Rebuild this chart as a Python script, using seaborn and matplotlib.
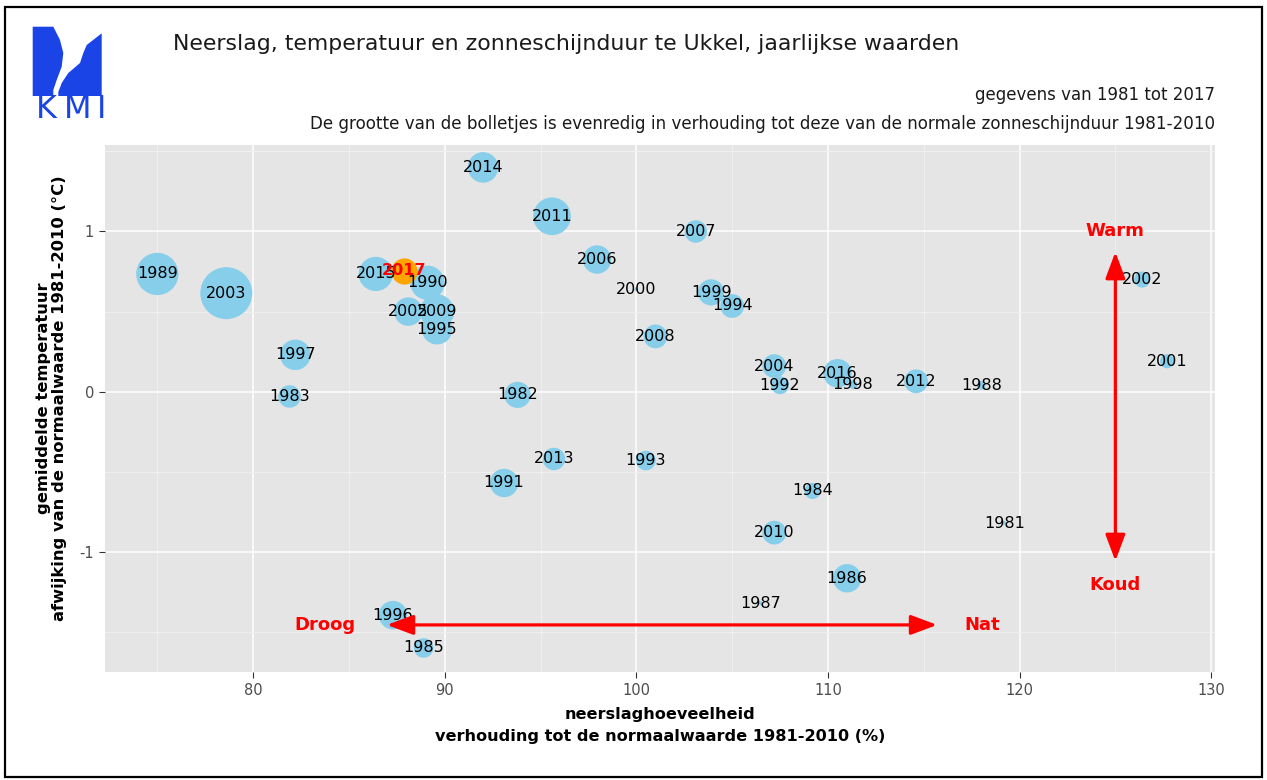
import pandas as pd
import seaborn as sns
import matplotlib.pyplot as plt
from matplotlib.patches import Polygon, Rectangle

plt.rcParams["axes.unicode_minus"] = False

# jaarlijkse waarden Ukkel
jaren = [1981, 1982, 1983, 1984, 1985, 1986, 1987, 1988, 1989, 1990,
         1991, 1992, 1993, 1994, 1995, 1996, 1997, 1998, 1999, 2000,
         2001, 2002, 2003, 2004, 2005, 2006, 2007, 2008, 2009, 2010,
         2011, 2012, 2013, 2014, 2015, 2016, 2017]
neerslag = [119.2, 93.8, 81.9, 109.2, 88.9, 111.0, 106.5, 118.0, 75.0, 89.1,
            93.1, 107.5, 100.5, 105.0, 89.6, 87.3, 82.2, 111.3, 103.9, 100.0,
            127.7, 126.4, 78.6, 107.2, 88.1, 97.95, 103.1, 101.0, 89.6, 107.2,
            95.6, 114.6, 95.7, 92.0, 86.4, 110.5, 87.85]
temperatuur = [-0.82, -0.02, -0.03, -0.62, -1.60, -1.165, -1.32, 0.04, 0.735, 0.68,
               -0.57, 0.04, -0.43, 0.535, 0.39, -1.395, 0.23, 0.045, 0.62, 0.64,
               0.19, 0.70, 0.615, 0.16, 0.50, 0.825, 1.0, 0.345, 0.50, -0.88,
               1.095, 0.065, -0.42, 1.40, 0.735, 0.115, 0.755]
zon = [85, 96, 93, 89, 91, 98, 85, 86, 114, 104,
       98, 90, 91, 94, 100, 98, 100, 86, 96, 85,
       88, 89, 129, 94, 98, 98, 93, 94, 104, 94,
       108, 94, 93, 100, 104, 98, 96]

df = pd.DataFrame({"jaar": jaren, "neerslag": neerslag,
                   "temperatuur": temperatuur, "zon": zon})
oud = df[df["jaar"] < 2017]
nieuw = df[df["jaar"] == 2017]

W, H = 1267, 780


def px(x, y):
    return x / W, 1 - y / H


fig = plt.figure(figsize=(W / 100, H / 100), dpi=100)
ax = fig.add_axes([105 / W, 1 - 672 / H, (1215 - 105) / W, (672 - 145) / H])
ax.set_facecolor("#e5e5e5")

sns.scatterplot(data=oud, x="neerslag", y="temperatuur", size="zon",
                sizes=(8, 1400), size_norm=(85, 129), color="skyblue",
                linewidth=0, legend=False, ax=ax, zorder=3)
sns.scatterplot(data=nieuw, x="neerslag", y="temperatuur", size="zon",
                sizes=(8, 1400), size_norm=(85, 129), color="orange",
                linewidth=0, legend=False, ax=ax, zorder=4)

for _, r in oud.iterrows():
    ax.text(r["neerslag"], r["temperatuur"], str(int(r["jaar"])), ha="center",
            va="center", fontsize=11.5, color="black", zorder=5)
for _, r in nieuw.iterrows():
    ax.text(r["neerslag"], r["temperatuur"], str(int(r["jaar"])), ha="center",
            va="center", fontsize=11.5, color="red", fontweight="bold", zorder=6)

# pijlen
pijl = dict(arrowstyle="<|-|>,head_length=0.8,head_width=0.3", color="red",
            lw=2.3, mutation_scale=20, shrinkA=0, shrinkB=0)
ax.annotate("", xy=(86.98, -1.456), xytext=(115.7, -1.456), arrowprops=pijl, zorder=7)
ax.annotate("", xy=(125.0, 0.872), xytext=(125.0, -1.057), arrowprops=pijl, zorder=7)
rood = dict(color="red", fontsize=13, fontweight="bold", ha="center", va="center", zorder=7)
ax.text(83.76, -1.456, "Droog", **rood)
ax.text(118.05, -1.456, "Nat", **rood)
ax.text(125.0, 1.0, "Warm", **rood)
ax.text(125.0, -1.205, "Koud", **rood)

ax.set_xlim(72.27, 130.2)
ax.set_ylim(-1.75, 1.54)
ax.set_xticks([80, 90, 100, 110, 120, 130])
ax.set_yticks([-1, 0, 1])
ax.set_xticks([75, 85, 95, 105, 115, 125], minor=True)
ax.set_yticks([-1.5, -0.5, 0.5, 1.5], minor=True)
ax.grid(which="major", color="white", lw=1.1, zorder=0)
ax.grid(which="minor", color="#f2f2f2", lw=0.6, zorder=0)
ax.set_axisbelow(True)
ax.tick_params(which="major", length=4, color="#333333", labelcolor="#4d4d4d",
               labelsize=10.5, pad=4)
ax.tick_params(which="minor", length=0)
for s in ax.spines.values():
    s.set_visible(False)
ax.set_xlabel("")
ax.set_ylabel("")

# titels
fig.text(*px(173, 44), "Neerslag, temperatuur en zonneschijnduur te Ukkel, jaarlijkse waarden",
         fontsize=15.8, ha="left", va="center", color="#1a1a1a")
fig.text(*px(1215, 95), "gegevens van 1981 tot 2017", fontsize=12,
         ha="right", va="center", color="#1a1a1a")
fig.text(*px(1215, 124),
         "De grootte van de bolletjes is evenredig in verhouding tot deze van de normale zonneschijnduur 1981-2010",
         fontsize=12.1, ha="right", va="center", color="#1a1a1a")

fig.text(*px(660, 715), "neerslaghoeveelheid", fontsize=11.6, fontweight="bold",
         ha="center", va="center")
fig.text(*px(660, 737), "verhouding tot de normaalwaarde 1981-2010 (%)", fontsize=11.6,
         fontweight="bold", ha="center", va="center")
fig.text(*px(44, 398), "gemiddelde temperatuur", fontsize=11.8, fontweight="bold",
         ha="center", va="center", rotation=90)
fig.text(*px(60, 398), "afwijking van de normaalwaarde 1981-2010 (°C)", fontsize=11.8,
         fontweight="bold", ha="center", va="center", rotation=90)

# KMI logo
blauw = "#1a44e6"
links = [(32.7, 26.7), (53.3, 26.7), (60, 40), (63.3, 53), (61.7, 66.7),
         (56.7, 80), (53.3, 90), (53.3, 96), (32.7, 96)]
rechts = [(101.7, 33.3), (86.7, 45), (83.3, 53), (80, 63), (68.3, 73),
          (61.7, 83), (58.3, 92), (58.3, 96), (101.7, 96)]
for pts in (links, rechts):
    fig.patches.append(Polygon([px(a, b) for a, b in pts], closed=True,
                               facecolor=blauw, edgecolor="none",
                               transform=fig.transFigure))
for letter, lx in (("K", 46.5), ("M", 77.5), ("I", 101.5)):
    fig.text(*px(lx, 110), letter, fontsize=23, color=blauw, ha="center", va="center")

# kader
fig.patches.append(Rectangle(px(5, 777), (1262 - 5) / W, (777 - 7) / H, fill=False,
                             edgecolor="black", lw=1.6, transform=fig.transFigure))

fig.savefig("out.png", dpi=100)
